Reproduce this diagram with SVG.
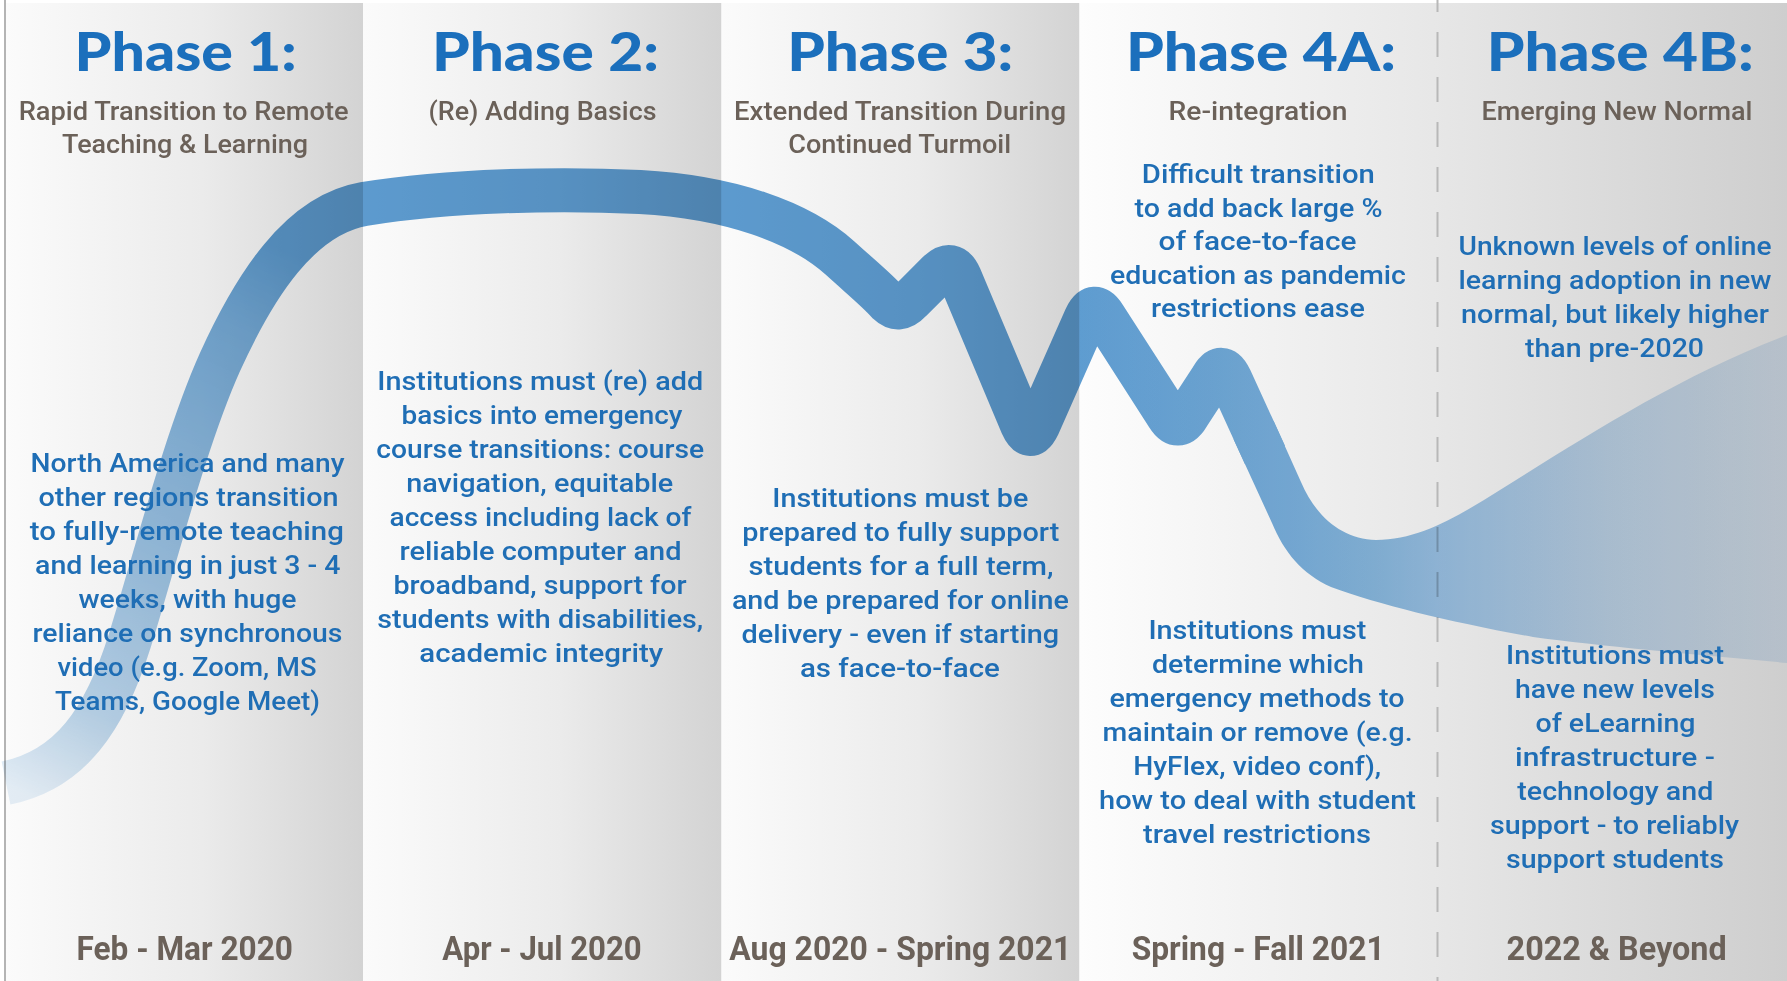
<svg xmlns="http://www.w3.org/2000/svg" width="1787" height="981" viewBox="0 0 1787 981">
<defs>
<style>
.t{font-family:Lato,"Open Sans","Liberation Sans",sans-serif;font-weight:900;font-size:54px;fill:#1b6fbc;text-anchor:middle}
.s{font-family:Roboto,"Liberation Sans",sans-serif;font-weight:500;font-size:26px;fill:#6b6159;text-anchor:middle}
.b{font-family:Roboto,"Liberation Sans",sans-serif;font-weight:500;font-size:25.5px;fill:#1f6eb5;text-anchor:middle}
.d{font-family:Roboto,"Liberation Sans",sans-serif;font-weight:700;font-size:34px;fill:#6b6159;text-anchor:middle}
</style>
<linearGradient id="colA" x1="0" y1="0" x2="1" y2="0">
<stop offset="0" stop-color="#fbfbfb"/><stop offset="0.55" stop-color="#ebebeb"/><stop offset="1" stop-color="#d3d3d3"/>
</linearGradient>
<linearGradient id="colB" x1="0" y1="0" x2="1" y2="0">
<stop offset="0" stop-color="#fdfdfd"/><stop offset="0.5" stop-color="#e7e7e7"/><stop offset="1" stop-color="#cecece"/>
</linearGradient>
<linearGradient id="ribbonGrad" gradientUnits="userSpaceOnUse" x1="0" y1="0" x2="1787" y2="0">
<stop offset="0" stop-color="#5e9dd2"/><stop offset="0.6" stop-color="#5e9dd2"/><stop offset="0.68" stop-color="#6ea8d8"/><stop offset="0.727" stop-color="#7bb1de"/><stop offset="0.77" stop-color="#8abbe2"/><stop offset="0.804" stop-color="#9cc5e9"/><stop offset="0.9" stop-color="#c4dbf0"/><stop offset="1" stop-color="#e2eefa"/>
</linearGradient>
<linearGradient id="fadeGrad" gradientUnits="userSpaceOnUse" x1="260" y1="240" x2="15" y2="790">
<stop offset="0" stop-color="#fff" stop-opacity="1"/><stop offset="0.15" stop-color="#fff" stop-opacity="0.85"/><stop offset="0.55" stop-color="#fff" stop-opacity="0.62"/><stop offset="0.83" stop-color="#fff" stop-opacity="0.42"/><stop offset="1" stop-color="#fff" stop-opacity="0.15"/>
</linearGradient>
<mask id="fadeMask" maskUnits="userSpaceOnUse" x="0" y="0" width="1787" height="981">
<rect x="0" y="0" width="1787" height="981" fill="url(#fadeGrad)"/>
</mask>
</defs>
<rect x="0" y="0" width="1787" height="981" fill="#ffffff"/>
<g id="background">
<rect x="5" y="3" width="358" height="978" fill="url(#colA)"/>
<rect x="363" y="3" width="358.5" height="978" fill="url(#colA)"/>
<rect x="721.5" y="3" width="358" height="978" fill="url(#colA)"/>
<rect x="1079.5" y="3" width="707.5" height="978" fill="url(#colB)"/>
<line x1="5" y1="0" x2="5" y2="981" stroke="#b4b4b4" stroke-width="2"/>
<line x1="1437.5" y1="-13" x2="1437.5" y2="981" stroke="#b8b8b8" stroke-width="2" stroke-dasharray="25 20"/>
</g>
<g id="connectors" style="mix-blend-mode:multiply">
<path d="M 6 783 C 70 770 105 720 130 640 C 155 560 185 440 220 362 C 255 285 300 215 364 204 C 450 190 560 188 640 192 C 730 197 800 222 840 258 C 862 278 877 290 888.4 302.9 Q 899 313 910.3 300.7 L 937.9 273.1 Q 952 259 960 277.3 L 1022 424.7 Q 1030 443 1038.4 424.9 L 1085.6 318.1 Q 1094 300 1104.5 317 L 1167.5 415 Q 1178 432 1188.1 414.8 L 1211.9 378.2 Q 1222 361 1230.3 379.2 L 1265 455" fill="none" stroke="url(#ribbonGrad)" stroke-width="44" stroke-linejoin="round" mask="url(#fadeMask)"/>
<path d="M 1273.6 420.9 L 1301 482 C 1316 517 1342 539 1376 540 C 1420 540 1460 515 1500 490 C 1580 440 1680 375 1787 335 L 1787 663 C 1700 655 1600 646 1533 637 C 1450 622 1380 605 1331 587 C 1302 574 1284 552 1272 523 L 1233.6 439.2 Z" fill="url(#ribbonGrad)"/>
</g>
<g id="phase1">
<text class="t" x="185.6" y="70.7" textLength="222" lengthAdjust="spacingAndGlyphs">Phase 1:</text>
<text class="s" x="183.7" y="120" textLength="330" lengthAdjust="spacingAndGlyphs">Rapid Transition to Remote</text>
<text class="s" x="185" y="153.3" textLength="246" lengthAdjust="spacingAndGlyphs">Teaching &amp; Learning</text>
<text class="b" x="187.5" y="472" textLength="314" lengthAdjust="spacingAndGlyphs">North America and many</text>
<text class="b" x="188.5" y="506" textLength="300" lengthAdjust="spacingAndGlyphs">other regions transition</text>
<text class="b" x="186.8" y="540" textLength="314" lengthAdjust="spacingAndGlyphs">to fully-remote teaching</text>
<text class="b" x="187.8" y="574" textLength="305.5" lengthAdjust="spacingAndGlyphs">and learning in just 3 - 4</text>
<text class="b" x="187.5" y="608" textLength="218" lengthAdjust="spacingAndGlyphs">weeks, with huge</text>
<text class="b" x="187.5" y="642" textLength="310" lengthAdjust="spacingAndGlyphs">reliance on synchronous</text>
<text class="b" x="187" y="676" textLength="259" lengthAdjust="spacingAndGlyphs">video (e.g. Zoom, MS</text>
<text class="b" x="187.5" y="710" textLength="265" lengthAdjust="spacingAndGlyphs">Teams, Google Meet)</text>
<text class="d" x="184.7" y="959.5" textLength="216.5" lengthAdjust="spacingAndGlyphs">Feb - Mar 2020</text>
</g>
<g id="phase2">
<text class="t" x="545.4" y="70.7" textLength="227" lengthAdjust="spacingAndGlyphs">Phase 2:</text>
<text class="s" x="542.5" y="120" textLength="228" lengthAdjust="spacingAndGlyphs">(Re) Adding Basics</text>
<text class="b" x="540.3" y="390" textLength="326" lengthAdjust="spacingAndGlyphs">Institutions must (re) add</text>
<text class="b" x="542" y="424" textLength="281" lengthAdjust="spacingAndGlyphs">basics into emergency</text>
<text class="b" x="540.2" y="458" textLength="328" lengthAdjust="spacingAndGlyphs">course transitions: course</text>
<text class="b" x="539.7" y="492" textLength="267" lengthAdjust="spacingAndGlyphs">navigation, equitable</text>
<text class="b" x="540.5" y="526" textLength="302" lengthAdjust="spacingAndGlyphs">access including lack of</text>
<text class="b" x="540.5" y="560" textLength="282" lengthAdjust="spacingAndGlyphs">reliable computer and</text>
<text class="b" x="540" y="594" textLength="293" lengthAdjust="spacingAndGlyphs">broadband, support for</text>
<text class="b" x="540.3" y="628" textLength="326" lengthAdjust="spacingAndGlyphs">students with disabilities,</text>
<text class="b" x="541.3" y="662" textLength="244" lengthAdjust="spacingAndGlyphs">academic integrity</text>
<text class="d" x="542" y="959.5" textLength="199.5" lengthAdjust="spacingAndGlyphs">Apr - Jul 2020</text>
</g>
<g id="phase3">
<text class="t" x="900.2" y="70.7" textLength="226" lengthAdjust="spacingAndGlyphs">Phase 3:</text>
<text class="s" x="900" y="120" textLength="332" lengthAdjust="spacingAndGlyphs">Extended Transition During</text>
<text class="s" x="899.7" y="153.3" textLength="223" lengthAdjust="spacingAndGlyphs">Continued Turmoil</text>
<text class="b" x="900.3" y="506.5" textLength="256" lengthAdjust="spacingAndGlyphs">Institutions must be</text>
<text class="b" x="900.8" y="540.5" textLength="317" lengthAdjust="spacingAndGlyphs">prepared to fully support</text>
<text class="b" x="901" y="574.5" textLength="305" lengthAdjust="spacingAndGlyphs">students for a full term,</text>
<text class="b" x="900.4" y="608.5" textLength="337" lengthAdjust="spacingAndGlyphs">and be prepared for online</text>
<text class="b" x="900.4" y="642.5" textLength="317.6" lengthAdjust="spacingAndGlyphs">delivery - even if starting</text>
<text class="b" x="899.9" y="676.5" textLength="200" lengthAdjust="spacingAndGlyphs">as face-to-face</text>
<text class="d" x="900.3" y="959.5" textLength="342" lengthAdjust="spacingAndGlyphs">Aug 2020 - Spring 2021</text>
</g>
<g id="phase4a">
<text class="t" x="1261" y="70.7" textLength="270" lengthAdjust="spacingAndGlyphs">Phase 4A:</text>
<text class="s" x="1258" y="120" textLength="179" lengthAdjust="spacingAndGlyphs">Re-integration</text>
<text class="b" x="1258.3" y="183" textLength="233" lengthAdjust="spacingAndGlyphs">Difficult transition</text>
<text class="b" x="1258.5" y="216.5" textLength="248" lengthAdjust="spacingAndGlyphs">to add back large %</text>
<text class="b" x="1257.5" y="250" textLength="198" lengthAdjust="spacingAndGlyphs">of face-to-face</text>
<text class="b" x="1258" y="283.5" textLength="296" lengthAdjust="spacingAndGlyphs">education as pandemic</text>
<text class="b" x="1258" y="317" textLength="214" lengthAdjust="spacingAndGlyphs">restrictions ease</text>
<text class="b" x="1257.4" y="639" textLength="218" lengthAdjust="spacingAndGlyphs">Institutions must</text>
<text class="b" x="1258" y="673" textLength="212" lengthAdjust="spacingAndGlyphs">determine which</text>
<text class="b" x="1257" y="707" textLength="295" lengthAdjust="spacingAndGlyphs">emergency methods to</text>
<text class="b" x="1257.6" y="741" textLength="310" lengthAdjust="spacingAndGlyphs">maintain or remove (e.g.</text>
<text class="b" x="1257.2" y="775" textLength="248" lengthAdjust="spacingAndGlyphs">HyFlex, video conf),</text>
<text class="b" x="1257.5" y="809" textLength="317" lengthAdjust="spacingAndGlyphs">how to deal with student</text>
<text class="b" x="1257" y="843" textLength="228" lengthAdjust="spacingAndGlyphs">travel restrictions</text>
<text class="d" x="1258.2" y="959.5" textLength="253" lengthAdjust="spacingAndGlyphs">Spring - Fall 2021</text>
</g>
<g id="phase4b">
<text class="t" x="1620.3" y="70.7" textLength="267" lengthAdjust="spacingAndGlyphs">Phase 4B:</text>
<text class="s" x="1617" y="120" textLength="271" lengthAdjust="spacingAndGlyphs">Emerging New Normal</text>
<text class="b" x="1615" y="255" textLength="313" lengthAdjust="spacingAndGlyphs">Unknown levels of online</text>
<text class="b" x="1615" y="289" textLength="313" lengthAdjust="spacingAndGlyphs">learning adoption in new</text>
<text class="b" x="1615" y="323" textLength="308" lengthAdjust="spacingAndGlyphs">normal, but likely higher</text>
<text class="b" x="1614.5" y="357" textLength="179" lengthAdjust="spacingAndGlyphs">than pre-2020</text>
<text class="b" x="1615" y="664" textLength="218" lengthAdjust="spacingAndGlyphs">Institutions must</text>
<text class="b" x="1615" y="698" textLength="200" lengthAdjust="spacingAndGlyphs">have new levels</text>
<text class="b" x="1615.5" y="732" textLength="160" lengthAdjust="spacingAndGlyphs">of eLearning</text>
<text class="b" x="1615" y="766" textLength="200" lengthAdjust="spacingAndGlyphs">infrastructure -</text>
<text class="b" x="1615.3" y="800" textLength="196" lengthAdjust="spacingAndGlyphs">technology and</text>
<text class="b" x="1614.5" y="834" textLength="249" lengthAdjust="spacingAndGlyphs">support - to reliably</text>
<text class="b" x="1615" y="868" textLength="218" lengthAdjust="spacingAndGlyphs">support students</text>
<text class="d" x="1616.6" y="959.5" textLength="220" lengthAdjust="spacingAndGlyphs">2022 &amp; Beyond</text>
</g>
</svg>
